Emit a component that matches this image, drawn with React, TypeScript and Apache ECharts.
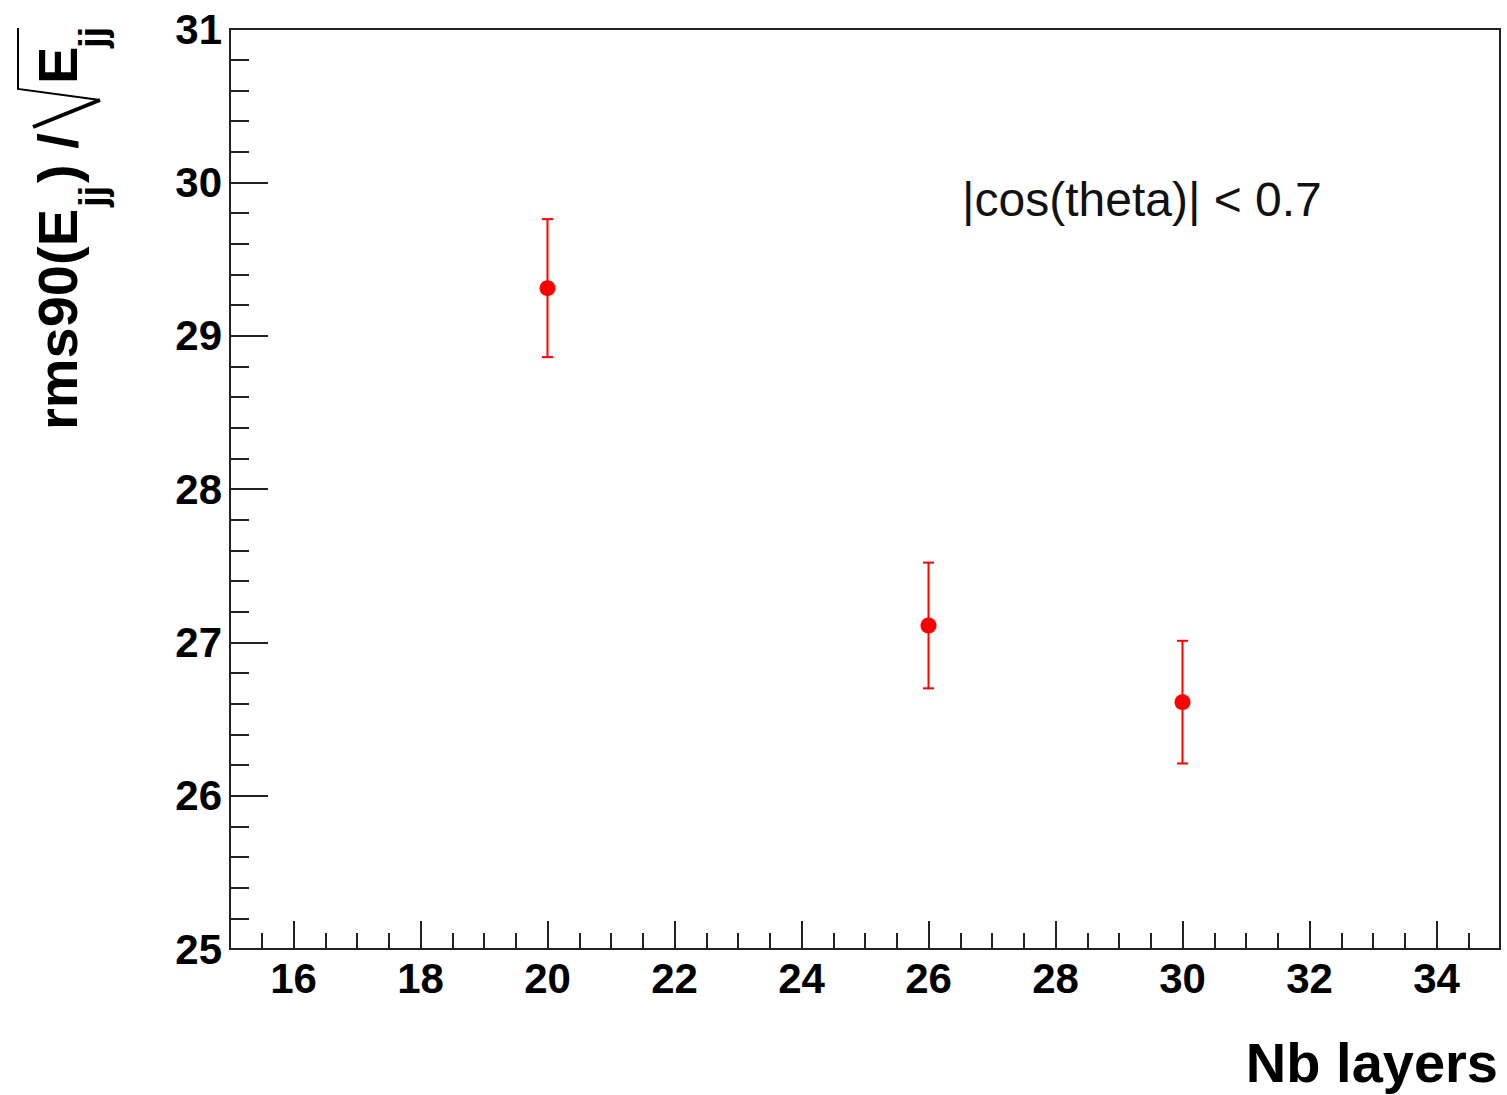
import React, { useEffect, useRef } from "react";
import * as echarts from "echarts";

// ---- data ----
const nbLayers = [20, 26, 30];
const rmsValues = [29.31, 27.11, 26.61];
const rmsErrors = [0.45, 0.41, 0.4];

const xMajorTicks = [16, 18, 20, 22, 24, 26, 28, 30, 32, 34];
const xMinorTicks = [
  15.5, 16.5, 17, 17.5, 18.5, 19, 19.5, 20.5, 21, 21.5, 22.5, 23, 23.5, 24.5, 25,
  25.5, 26.5, 27, 27.5, 28.5, 29, 29.5, 30.5, 31, 31.5, 32.5, 33, 33.5, 34.5,
];
const xRange = [15, 35];
const yRange = [25, 31];

const xTitle = "Nb layers";
const cutText = "|cos(theta)| < 0.7";

const FONT = '"Liberation Sans", Arial, sans-serif';
const AXIS_COLOR = "#222";
const RED = "#ff0000";

export default function App() {
  const ref = useRef<HTMLDivElement>(null);

  useEffect(() => {
    const chart = echarts.init(ref.current!, null, { renderer: "svg" });
    const points = nbLayers.map((x, i) => [x, rmsValues[i]]);
    const errs = nbLayers.map((x, i) => [x, rmsValues[i] - rmsErrors[i], rmsValues[i] + rmsErrors[i]]);

    const mainSize = 56;
    const subSize = 38;
    const mainY = -0.3465 * mainSize;
    const subY = 29 - 0.3465 * subSize;
    const mainFont = `bold ${mainSize}px ${FONT}`;
    const subFont = `bold ${subSize}px ${FONT}`;
    const txt = (text: string, x: number, y: number, font: string) => ({
      type: "text",
      x,
      y,
      style: { text, font, fill: "#000", align: "left", verticalAlign: "middle", textAlign: "left", textVerticalAlign: "middle" },
    });

    chart.setOption({
      animation: false,
      backgroundColor: "#ffffff",
      grid: {
        left: 230,
        top: 29,
        right: 7,
        bottom: 146,
        show: true,
        borderColor: AXIS_COLOR,
        borderWidth: 2,
        backgroundColor: "transparent",
      },
      xAxis: [
        {
          type: "value",
          min: xRange[0],
          max: xRange[1],
          position: "bottom",
          axisLine: { onZero: false, lineStyle: { color: AXIS_COLOR, width: 2 } },
          axisTick: { show: true, inside: true, length: 28, customValues: xMajorTicks, lineStyle: { color: AXIS_COLOR, width: 2 } },
          axisLabel: {
            customValues: xMajorTicks,
            margin: 8,
            fontFamily: FONT,
            fontWeight: "bold",
            fontSize: 42,
            color: "#000",
          },
          splitLine: { show: false },
        },
        {
          type: "value",
          min: xRange[0],
          max: xRange[1],
          position: "bottom",
          axisLine: { show: false, onZero: false },
          axisTick: { show: true, inside: true, length: 16, customValues: xMinorTicks, lineStyle: { color: AXIS_COLOR, width: 2 } },
          axisLabel: { show: false },
          splitLine: { show: false },
        },
      ],
      yAxis: {
        type: "value",
        min: yRange[0],
        max: yRange[1],
        interval: 1,
        axisLine: { onZero: false, lineStyle: { color: AXIS_COLOR, width: 2 } },
        axisTick: { show: true, inside: true, length: 38, lineStyle: { color: AXIS_COLOR, width: 2 } },
        minorTick: { show: true, splitNumber: 5, length: 19, lineStyle: { color: AXIS_COLOR, width: 2 } },
        axisLabel: {
          margin: 8,
          fontFamily: FONT,
          fontWeight: "bold",
          fontSize: 42,
          color: "#000",
        },
        splitLine: { show: false },
        minorSplitLine: { show: false },
      },
      graphic: [
        {
          type: "group",
          x: 77,
          y: 430,
          rotation: Math.PI / 2,
          children: [
            txt("rms90(E", 0, mainY, mainFont),
            txt("jj", 223, subY, subFont),
            txt(") /", 247, mainY, mainFont),
            txt("E", 346, mainY, mainFont),
            txt("jj", 382, subY, subFont),
          ],
        },
        {
          type: "polyline",
          shape: { points: [[33, 127], [100, 100]] },
          style: { stroke: "#000", lineWidth: 4, fill: null },
        },
        {
          type: "polyline",
          shape: { points: [[100, 100], [18, 89], [18, 28]] },
          style: { stroke: "#000", lineWidth: 2, fill: null },
        },
        {
          type: "text",
          x: 1498,
          y: 1082 - 0.3465 * 56,
          style: { text: xTitle, font: `bold 56px ${FONT}`, fill: "#000", align: "right", verticalAlign: "middle", textAlign: "right", textVerticalAlign: "middle" },
        },
        {
          type: "text",
          x: 962,
          y: 216 - 0.3465 * 48,
          style: {
            text: cutText,
            font: `48px ${FONT}`,
            fill: "#111",
            align: "left",
            verticalAlign: "middle",
            textAlign: "left",
            textVerticalAlign: "middle",
          },
        },
      ],
      series: [
        {
          type: "custom",
          xAxisIndex: 0,
          yAxisIndex: 0,
          data: errs,
          encode: { x: 0, y: [1, 2] },
          renderItem: (params: any, api: any) => {
            const x = api.value(0);
            const lo = api.coord([x, api.value(1)]);
            const hi = api.coord([x, api.value(2)]);
            const cap = 5.5;
            const st = { stroke: RED, lineWidth: 2 };
            return {
              type: "group",
              children: [
                { type: "line", shape: { x1: lo[0], y1: lo[1], x2: hi[0], y2: hi[1] }, style: st },
                { type: "line", shape: { x1: lo[0] - cap, y1: lo[1], x2: lo[0] + cap, y2: lo[1] }, style: st },
                { type: "line", shape: { x1: hi[0] - cap, y1: hi[1], x2: hi[0] + cap, y2: hi[1] }, style: st },
              ],
            };
          },
          z: 3,
        },
        {
          type: "scatter",
          xAxisIndex: 0,
          yAxisIndex: 0,
          data: points,
          symbol: "circle",
          symbolSize: 16,
          itemStyle: { color: RED, opacity: 1 },
          z: 4,
        },
      ],
    });
    return () => chart.dispose();
  }, []);

  return (
    <div
      ref={ref}
      style={{ position: "fixed", left: 0, top: 0, width: 1507, height: 1095, background: "#fff" }}
    />
  );
}
